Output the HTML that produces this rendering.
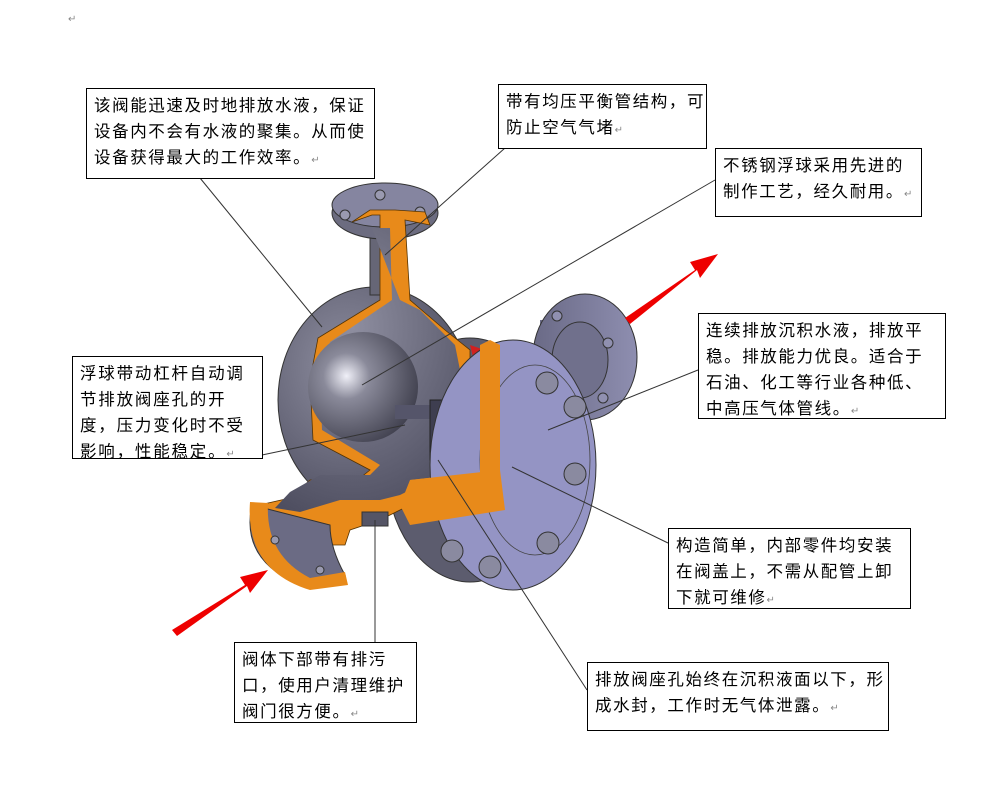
<!DOCTYPE html>
<html><head><meta charset="utf-8"><style>
body{margin:0;background:#fff;}
.wrap{position:relative;width:1000px;height:809px;overflow:hidden;font-family:"Liberation Sans","Noto Sans CJK SC",sans-serif;}
.box{position:absolute;border:1px solid #000;background:#fff;font-size:16.5px;line-height:26px;letter-spacing:1.6px;color:#000;padding:4px 7px;box-sizing:border-box;white-space:nowrap;}
.box span{font-size:10px;color:#888;letter-spacing:0}
svg{position:absolute;left:0;top:0;}
</style></head><body><div class="wrap">
<svg width="1000" height="809">
<defs>
<radialGradient id="sph" cx="0.35" cy="0.35" r="0.75"><stop offset="0" stop-color="#8e8ea0"/><stop offset="1" stop-color="#4a4a5c"/></radialGradient>
<radialGradient id="ball" cx="0.35" cy="0.4" r="0.7"><stop offset="0" stop-color="#f0f0f8"/><stop offset="0.3" stop-color="#8a8a9a"/><stop offset="1" stop-color="#3e3e4c"/></radialGradient>
<linearGradient id="fl" x1="0" x2="1"><stop offset="0" stop-color="#6a6a86"/><stop offset="1" stop-color="#8e8eb0"/></linearGradient>
</defs>
<text x="68" y="22" font-size="10" fill="#888">↵</text>
<rect x="540" y="320" width="50" height="80" fill="#6e6e8a"/>
<ellipse cx="585" cy="357" rx="52" ry="63" fill="url(#fl)" stroke="#333"/>
<ellipse cx="580" cy="360" rx="28" ry="38" fill="#70708c" stroke="#333"/>
<circle cx="557" cy="316" r="5" fill="#9090b0" stroke="#333"/><circle cx="608" cy="343" r="5" fill="#9090b0" stroke="#333"/><circle cx="603" cy="398" r="5" fill="#9090b0" stroke="#333"/>
<ellipse cx="470" cy="460" rx="85" ry="122" fill="#5c5c6e" stroke="#333"/>
<ellipse cx="375" cy="400" rx="97" ry="113" fill="url(#sph)" stroke="#333"/>
<rect x="370" y="220" width="30" height="75" fill="#666676" stroke="#333"/>
<ellipse cx="385" cy="213" rx="53" ry="26" fill="#6c6c80" stroke="#333"/>
<ellipse cx="385" cy="205" rx="53" ry="22" fill="#8585a0" stroke="#333"/>
<circle cx="345" cy="215" r="5" fill="#9a9ab0" stroke="#333"/><circle cx="380" cy="195" r="5" fill="#9a9ab0" stroke="#333"/><circle cx="420" cy="212" r="5" fill="#9a9ab0" stroke="#333"/>
<path d="M352 222 L372 215 L380 215 L380 300 L318 338 L310 380 L313 440 L370 470 L360 478 L310 480 L290 498 L255 506 L270 520 L300 520 L290 535 L320 545 L345 545 L350 530 L380 520 L410 505 L420 520 L440 515 L470 500 L510 480 L510 380 L470 360 L470 350 L445 330 L410 300 L405 220 L430 225 L425 212 L395 210 L370 210 Z" fill="#e88a1a" stroke="#553300" stroke-width="0.8"/>
<path d="M372 228 L390 228 L392 300 L330 342 L320 380 L322 430 L380 465 L370 475 L320 475 L290 492 L275 508 L300 512 L340 500 L380 500 L400 495 L430 480 L470 470 L495 460 L495 385 L460 370 L455 345 L420 310 L400 300 Z" fill="url(#sph)"/>
<circle cx="363" cy="387" r="55" fill="url(#ball)"/>
<rect x="395" y="405" width="60" height="14" fill="#55556a"/>
<rect x="430" y="400" width="35" height="60" fill="#3e3e50" stroke="#222"/>
<rect x="440" y="410" width="30" height="35" fill="#8888a0" stroke="#222"/>
<rect x="498" y="366" width="12" height="106" fill="#8a8aa0" stroke="#333"/>
<ellipse cx="504" cy="368" rx="7" ry="5" fill="#aaa" stroke="#333"/>
<path d="M470 360 L490 355 L490 470 L470 475 Z" fill="#e88a1a"/>
<path d="M410 480 L500 470 L505 505 L430 515 Z" fill="#e88a1a"/>
<path d="M485 350 L470 345 L475 365 Z" fill="#d02020"/>
<path d="M252 505 Q240 560 300 585 L345 575 Q330 548 330 525 Z" fill="#6b6b84" stroke="#333"/>
<path d="M250 502 L268 503 Q265 555 310 578 L345 572 L348 585 L310 590 Q245 570 250 502Z" fill="#e88a1a"/>
<circle cx="275" cy="540" r="4" fill="#9a9ab0" stroke="#333"/><circle cx="320" cy="570" r="4" fill="#9a9ab0" stroke="#333"/>
<rect x="362" y="512" width="26" height="14" fill="#555566" stroke="#333"/>
<ellipse cx="513" cy="465" rx="83" ry="125" fill="#9494c4" stroke="#333"/>
<ellipse cx="535" cy="460" rx="55" ry="95" fill="none" stroke="#444" stroke-width="0.8"/>
<path d="M490 340 L500 345 L500 475 L480 480 L480 345 Z" fill="#e88a1a"/>
<path d="M410 480 L500 470 L505 510 L410 525 L400 505Z" fill="#e88a1a"/>
<g fill="#8a8aa0" stroke="#333">
<circle cx="547" cy="383" r="11"/><circle cx="575" cy="407" r="11"/><circle cx="575" cy="474" r="11"/><circle cx="548" cy="543" r="11"/><circle cx="490" cy="567" r="11"/><circle cx="452" cy="551" r="11"/>
</g>
<path d="M625 318 L695 270 L690 262 L718 254 L700 278 L697 270 L630 324 Z" fill="#ee0000"/>
<path d="M172 630 L245 585 L240 577 L268 570 L250 593 L247 586 L177 636 Z" fill="#ee0000"/>
<g stroke="#333" stroke-width="1" fill="none">
<line x1="200" y1="178" x2="322" y2="327"/>
<line x1="505" y1="148" x2="385" y2="255"/>
<line x1="715" y1="180" x2="362" y2="385"/>
<line x1="698" y1="370" x2="548" y2="430"/>
<line x1="262" y1="455" x2="405" y2="425"/>
<line x1="668" y1="543" x2="512" y2="467"/>
<line x1="375" y1="642" x2="375" y2="520"/>
<line x1="587" y1="690" x2="438" y2="460"/>
</g>
</svg>
<div class="box" style="left:86px;top:88px;width:289px;height:91px;">该阀能迅速及时地排放水液，保证<br>设备内不会有水液的聚集。从而使<br>设备获得最大的工作效率。<span>↵</span></div>
<div class="box" style="left:498px;top:84px;width:209px;height:65px;">带有均压平衡管结构，可<br>防止空气气堵<span>↵</span></div>
<div class="box" style="left:715px;top:148px;width:207px;height:69px;">不锈钢浮球采用先进的<br>制作工艺，经久耐用。<span>↵</span></div>
<div class="box" style="left:698px;top:313px;width:248px;height:106px;">连续排放沉积水液，排放平<br>稳。排放能力优良。适合于<br>石油、化工等行业各种低、<br>中高压气体管线。<span>↵</span></div>
<div class="box" style="left:72px;top:356px;width:191px;height:103px;letter-spacing:1.8px;">浮球带动杠杆自动调<br>节排放阀座孔的开<br>度，压力变化时不受<br>影响，性能稳定。<span>↵</span></div>
<div class="box" style="left:668px;top:528px;width:243px;height:81px;">构造简单，内部零件均安装<br>在阀盖上，不需从配管上卸<br>下就可维修<span>↵</span></div>
<div class="box" style="left:234px;top:642px;width:183px;height:81px;">阀体下部带有排污<br>口，使用户清理维护<br>阀门很方便。<span>↵</span></div>
<div class="box" style="left:587px;top:662px;width:302px;height:69px;">排放阀座孔始终在沉积液面以下，形<br>成水封，工作时无气体泄露。<span>↵</span></div>
</div></body></html>
